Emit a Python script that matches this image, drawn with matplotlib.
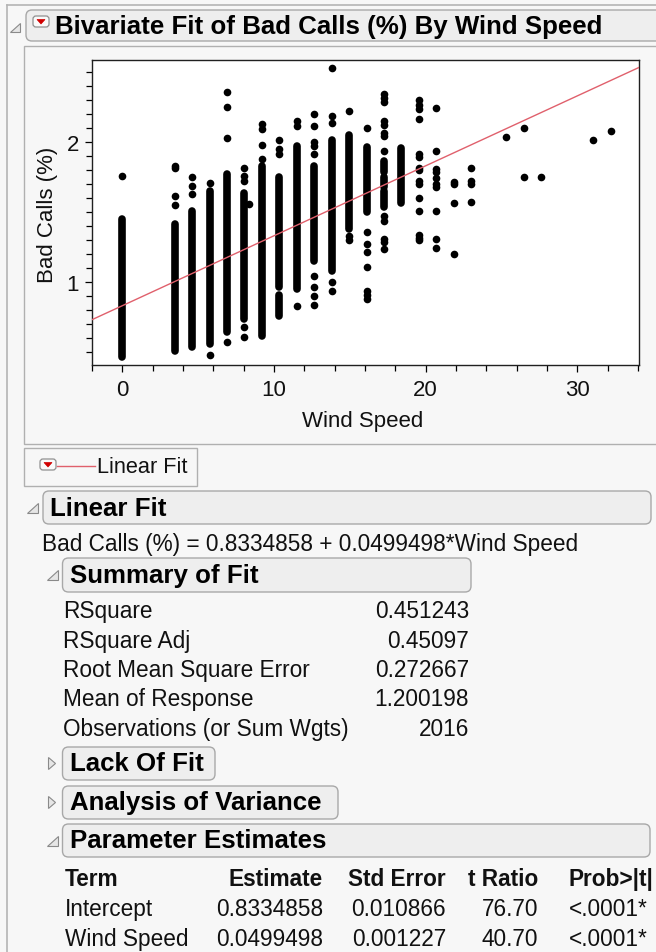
import numpy as np
import matplotlib.pyplot as plt
from matplotlib.patches import FancyBboxPatch, Rectangle, Polygon

plt.rcParams['font.family'] = ['Liberation Sans', 'DejaVu Sans']

W, H = 656, 953

# fitted line
fit_b0 = 0.8334858
fit_b1 = 0.0499498

# dense stretches of overlapping dots in a wind speed column (x, low, high)
run_x = [0, 3.45, 4.6, 5.75, 6.9, 8.05, 9.2, 10.35, 10.35, 11.5, 12.65, 13.8,
         14.95, 16.1, 17.25, 17.25, 17.25, 18.4]
run_lo = [0.47, 0.51, 0.54, 0.56, 0.643, 0.74, 0.62, 0.964, 0.76, 0.952, 1.154, 1.08,
          1.38, 1.50, 1.79, 1.68, 1.54, 1.57]
run_hi = [1.45, 1.42, 1.51, 1.65, 1.774, 1.64, 1.83, 1.75, 0.91, 1.976, 1.83, 2.02,
          2.05, 1.964, 1.87, 1.75, 1.65, 1.96]

# separate dots, per wind speed
dot_x = [0, 3.45, 4.6, 5.75, 6.9, 8.05, 8.35, 9.2, 10.35, 11.5, 12.65, 13.8, 14.95,
         16.1, 17.25, 19.55, 20.7, 21.85, 23.0, 25.3, 26.45, 27.6, 31.05, 32.2]
dot_y = [
    [1.76],
    [1.83, 1.815, 1.62, 1.555],
    [1.75, 1.69, 1.63],
    [1.71, 0.478],
    [2.357, 2.255, 2.03, 0.577],
    [1.82, 1.76, 1.726, 0.68, 0.61],
    [1.56],
    [2.13, 2.095, 1.98, 1.88],
    [2.02, 1.95, 1.917],
    [2.155, 2.114, 0.833],
    [2.2, 2.12, 2.0, 1.976, 1.92, 1.047, 0.964, 0.904, 0.84],
    [2.53, 2.19, 2.14, 1.0, 0.94],
    [2.226, 1.33, 1.30],
    [2.104, 1.357, 1.274, 1.214, 1.113, 0.936, 0.908, 0.878],
    [2.345, 2.314, 2.286, 2.155, 2.122, 2.064, 2.045, 1.935, 1.476, 1.44, 1.31, 1.29, 1.238],
    [2.30, 2.27, 2.235, 2.17, 1.92, 1.895, 1.82, 1.805, 1.726, 1.705, 1.60, 1.51, 1.34, 1.32, 1.30],
    [2.245, 1.935, 1.81, 1.786, 1.745, 1.70, 1.68, 1.508, 1.31, 1.246],
    [1.72, 1.705, 1.564, 1.20],
    [1.817, 1.726, 1.70, 1.576],
    [2.036],
    [2.102, 1.752],
    [1.752],
    [2.016],
    [2.078],
]

x_ticks = [0, 10, 20, 30]
y_ticks = [1, 2]

summary_labels = ["RSquare", "RSquare Adj", "Root Mean Square Error",
                  "Mean of Response", "Observations (or Sum Wgts)"]
summary_values = ["0.451243", "0.45097", "0.272667", "1.200198", "2016"]

param_cols = ["Term", "Estimate", "Std Error", "t Ratio", "Prob>|t|"]
param_rows = [["Intercept", "0.8334858", "0.010866", "76.70", "<.0001*"],
              ["Wind Speed", "0.0499498", "0.001227", "40.70", "<.0001*"]]

TXT = '#111111'
BG = '#f7f7f7'
FS = 16.3
FSB = 18.6

fig = plt.figure(figsize=(W / 100, H / 100), dpi=100, facecolor=BG)
bg = fig.add_axes([0, 0, 1, 1], zorder=0)
bg.set_xlim(0, W)
bg.set_ylim(H, 0)
bg.axis('off')


def header(x0, x1, y0, y1, text, opened=True):
    bg.add_patch(FancyBboxPatch((x0, y0), x1 - x0, y1 - y0,
                                boxstyle="round,pad=0,rounding_size=6",
                                fc='#eeeeee', ec='#a8a8a8', lw=1.0))
    yc = (y0 + y1) / 2
    tx = x0 - 10
    if opened:
        tri = [(tx + 5, yc - 5), (tx + 5, yc + 5), (tx - 6, yc + 5)]
    else:
        tri = [(tx - 4, yc - 6), (tx - 4, yc + 6), (tx + 3, yc)]
    bg.add_patch(Polygon(tri, closed=True, fc='#e6e6e6', ec='#8a8a8a', lw=0.8))
    bg.text(x0 + 7, yc, text, fontsize=FSB, fontweight='bold', color='black',
            va='center', ha='left')


def red_button(x0, y0):
    bg.add_patch(FancyBboxPatch((x0, y0), 16, 11, boxstyle="round,pad=0,rounding_size=3",
                                fc='#fafafa', ec='#909090', lw=0.9))
    bg.add_patch(Polygon([(x0 + 4, y0 + 3.5), (x0 + 12, y0 + 3.5), (x0 + 8, y0 + 8)],
                         closed=True, fc='#d00000', ec='#d00000', lw=0.5))


# outer report frame
bg.plot([7, 7], [6, H], color='#b4b4b4', lw=1.2)
bg.plot([7, W], [6, 6], color='#b4b4b4', lw=1.2)

# report title
bg.add_patch(FancyBboxPatch((26, 11), W + 20 - 26, 31, boxstyle="round,pad=0,rounding_size=6",
                            fc='#eeeeee', ec='#a8a8a8', lw=1.0))
bg.add_patch(Polygon([(20, 24), (20, 33), (10, 33)], closed=True,
                     fc='#e6e6e6', ec='#8a8a8a', lw=0.8))
red_button(33, 17)
bg.text(55, 27, "Bivariate Fit of Bad Calls (%) By Wind Speed", fontsize=FSB,
        fontweight='bold', color='black', va='center', ha='left')

# panel holding the scatter plot
bg.add_patch(Rectangle((23.5, 46.5), W, 398, fc=BG, ec='#b0b0b0', lw=1.0))

# legend box
bg.add_patch(Rectangle((23.5, 448.5), 173, 38, fc=BG, ec='#b0b0b0', lw=1.0))
red_button(40, 460)
bg.plot([57, 95], [466.5, 466.5], color='#e0606c', lw=1.0)
bg.text(97, 468, "Linear Fit", fontsize=15.7, color=TXT, va='center', ha='left')

# Linear Fit report
header(43, 651, 492, 525, "Linear Fit")
bg.text(42, 545, "Bad Calls (%) = {} + {}*Wind Speed".format(fit_b0, fit_b1),
        fontsize=FS, color=TXT, va='center', ha='left')

header(62.5, 471, 559, 593, "Summary of Fit")
for i, (lab, val) in enumerate(zip(summary_labels, summary_values)):
    yy = 612 + i * 29.3
    bg.text(63, yy, lab, fontsize=FS, color=TXT, va='center', ha='left')
    bg.text(469, yy, val, fontsize=FS, color=TXT, va='center', ha='right')

header(62.5, 215, 748, 781, "Lack Of Fit", opened=False)
header(62.5, 338, 787, 820, "Analysis of Variance", opened=False)
header(62.5, 650, 825, 858, "Parameter Estimates")

col_x = [65, 323, 446, 538, 653]
col_ha = ['left', 'right', 'right', 'right', 'right']
for j, name in enumerate(param_cols):
    bg.text(col_x[j], 880, name, fontsize=FS, fontweight='bold', color=TXT,
            va='center', ha=col_ha[j])
for i, row in enumerate(param_rows):
    for j, cell in enumerate(row):
        xx = col_x[j] - 5 if j == 4 else col_x[j]
        bg.text(xx, 910 + i * 29.5, cell, fontsize=FS, color=TXT,
                va='center', ha=col_ha[j])

# scatter plot
ax = fig.add_axes([91.7 / W, 1 - 366 / H, 547.3 / W, 305.3 / H], zorder=2)
ax.set_facecolor('white')
dot_size = 5.5
for x, lo, hi in zip(run_x, run_lo, run_hi):
    ax.plot([x, x], [lo, hi], color='black', lw=dot_size, solid_capstyle='round', zorder=3)
for x, ys in zip(dot_x, dot_y):
    ax.plot([x] * len(ys), ys, 'o', color='black', ms=dot_size, mew=0, zorder=3)
ax.axline((0, fit_b0), slope=fit_b1, color='#e0606c', lw=1.0, zorder=4)

ax.set_xlim(-2.02, 34.06)
ax.set_ylim(0.41, 2.59)
ax.set_xticks(x_ticks)
ax.set_yticks(y_ticks)
ax.set_xticks(np.arange(-2, 35, 2), minor=True)
ax.set_yticks(np.arange(0.5, 2.6, 0.1), minor=True)
ax.tick_params(which='both', direction='out', color='black', width=0.9, labelsize=16,
               labelcolor=TXT)
ax.tick_params(which='major', length=5)
ax.tick_params(which='minor', length=4)
ax.tick_params(axis='x', pad=5)
ax.tick_params(axis='y', pad=4)
for s in ax.spines.values():
    s.set_linewidth(1.0)
    s.set_color('#202020')

ax.set_xlabel("Wind Speed", fontsize=16, color=TXT)
ax.set_ylabel("Bad Calls (%)", fontsize=16, color=TXT)
ax.xaxis.set_label_coords((363 - 91.7) / 547.3, (366 - 421) / 305.3)
ax.yaxis.set_label_coords((47 - 91.7) / 547.3, (366 - 215) / 305.3)
ax.xaxis.label.set_va('center')
ax.yaxis.label.set_va('center')

fig.savefig('out.png', dpi=100, facecolor=BG)
